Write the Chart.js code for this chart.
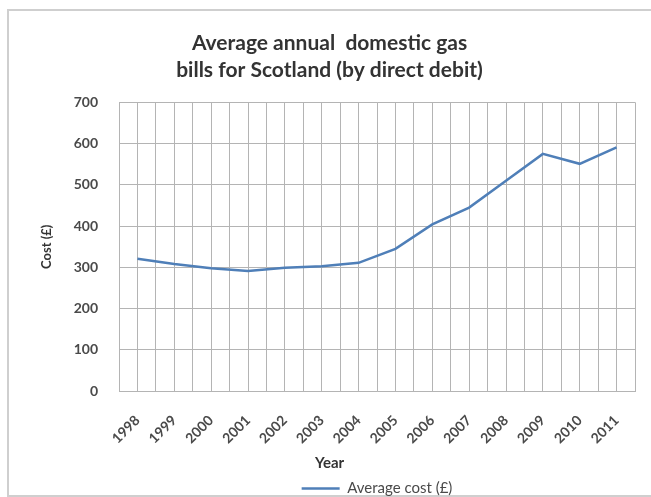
<!DOCTYPE html>
<html>
<head>
<meta charset="utf-8">
<title>Average annual domestic gas bills for Scotland</title>
<script src="https://cdn.jsdelivr.net/npm/chart.js@4/dist/chart.umd.min.js"></script>
<style>
  html, body { margin: 0; padding: 0; background: #fff; }
  #wrap { width: 651px; height: 497px; }
</style>
</head>
<body>
<div id="wrap"><canvas id="gasChart" width="651" height="497"></canvas></div>
<script>
const years = [1998, 1999, 2000, 2001, 2002, 2003, 2004, 2005, 2006, 2007, 2008, 2009, 2010, 2011];
const avgCost = [321, 308, 298, 291, 299, 303, 311, 345, 404, 445, 510, 575, 551, 591];
const yTicks = [0, 100, 200, 300, 400, 500, 600, 700];

const seriesName = 'Average cost (£)';
const lineColor = '#4f7fb8';
const gridColor = '#b4b4b4';
const textColor = '#4a4a4a';
const fontFamily = 'Lato, "Open Sans", sans-serif';

const points = years.map((yr, i) => ({ x: yr, y: avgCost[i] }));

// thin grey frame round the whole chart
const frame = {
  id: 'frame',
  beforeDraw(chart) {
    const ctx = chart.ctx;
    ctx.save();
    ctx.fillStyle = '#fff';
    ctx.fillRect(0, 0, chart.width, chart.height);
    ctx.strokeStyle = '#cfcfcf';
    ctx.lineWidth = 2;
    ctx.strokeRect(8, 10, chart.width + 10, chart.height - 11);
    ctx.restore();
  }
};

new Chart(document.getElementById('gasChart'), {
  type: 'line',
  data: {
    datasets: [{
      label: seriesName,
      data: points,
      borderColor: lineColor,
      backgroundColor: lineColor,
      borderWidth: 2.5,
      pointRadius: 0,
      tension: 0,
      fill: false
    }]
  },
  options: {
    responsive: false,
    animation: false,
    layout: { padding: { left: 8, right: 0, top: 12, bottom: -9 } },
    plugins: {
      title: {
        display: true,
        text: ['Average annual  domestic gas', 'bills for Scotland (by direct debit)'],
        color: '#333',
        font: { family: fontFamily, size: 21, weight: 'bold', lineHeight: 1.27 },
        padding: { top: 18, bottom: 19 }
      },
      subtitle: {
        display: true,
        position: 'bottom',
        weight: 500,
        text: 'Year',
        color: '#333',
        font: { family: fontFamily, size: 15, weight: 'bold', lineHeight: 1.2 },
        padding: { top: 6, bottom: 7 }
      },
      legend: {
        position: 'bottom',
        fullSize: false,
        labels: {
          usePointStyle: true,
          pointStyle: 'line',
          pointStyleWidth: 38,
          boxHeight: 2,
          color: textColor,
          padding: 2,
          font: { family: fontFamily, size: 15 }
        }
      },
      tooltip: { enabled: false }
    },
    scales: {
      x: {
        type: 'linear',
        min: years[0] - 0.5,
        max: years[years.length - 1] + 0.5,
        grid: { color: gridColor, drawTicks: false },
        border: { color: gridColor },
        ticks: {
          stepSize: 0.5,
          autoSkip: false,
          minRotation: 45,
          maxRotation: 45,
          padding: 21,
          color: textColor,
          font: { family: fontFamily, size: 14, weight: 'bold' },
          callback: v => (Number.isInteger(v) ? String(v) : '')
        },
        afterFit(scale) {
          scale.paddingLeft = 0;
          scale.paddingRight = 0;
          scale.height -= 20;
        }
      },
      y: {
        min: yTicks[0],
        max: yTicks[yTicks.length - 1],
        grid: { color: gridColor, drawTicks: false },
        border: { color: gridColor },
        ticks: {
          stepSize: 100,
          padding: 21,
          color: textColor,
          font: { family: fontFamily, size: 14, weight: 'bold' },
          callback: v => String(v)
        },
        title: {
          display: true,
          text: 'Cost (£)',
          color: '#333',
          font: { family: fontFamily, size: 13, weight: 'bold' },
          padding: { top: 31, bottom: 10 }
        },
        afterFit(scale) { scale.width = 111; }
      },
      yRight: {
        position: 'right',
        display: true,
        grid: { display: false },
        border: { display: false },
        ticks: { display: false },
        afterFit(scale) { scale.width = 16; }
      }
    }
  },
  plugins: [frame]
});
</script>
</body>
</html>
